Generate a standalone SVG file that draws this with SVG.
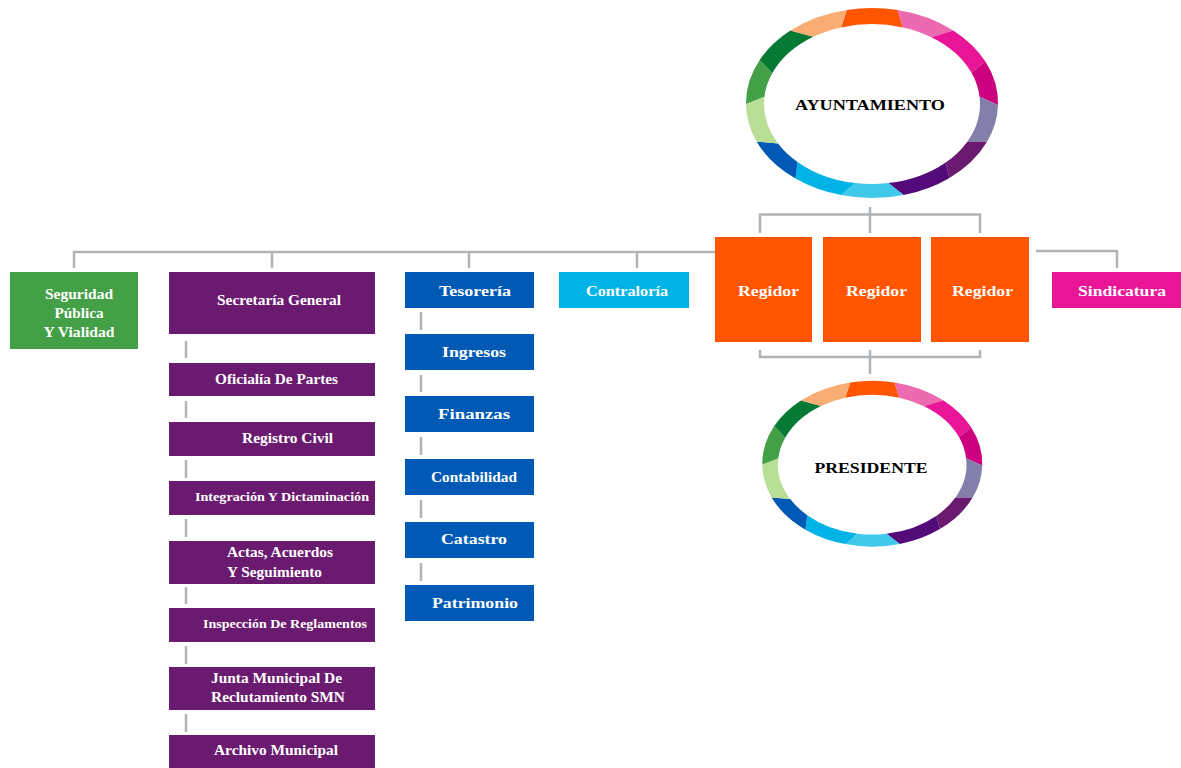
<svg xmlns="http://www.w3.org/2000/svg" width="1181" height="768" viewBox="0 0 1181 768">
<style>
text{font-family:"Liberation Serif","Times New Roman",serif;font-weight:bold;font-size:14px;fill:#fff;text-anchor:middle}
.sm{font-size:11.500px}
.k{fill:#000;font-size:15.500px}
.con path{fill:none;stroke:#b1b4b6;stroke-width:2.500}
.g{fill:#43a047}.p{fill:#6a1b70}.b{fill:#0059b5}.c{fill:#00b3e6}.o{fill:#ff5500}.m{fill:#e91597}
</style>
<defs>
<g id="ring">
<path fill="#ff5500" d="M846.7 10A126 95 0 0 1 897.7 10L903 27.400A108 80 0 0 0 841 27.400Z"/>
<path fill="#ec6ab0" d="M897.7 10A126 95 0 0 1 953.2 30.400L931.400 37.200A108 80 0 0 0 903 27.400Z"/>
<path fill="#e91597" d="M953.2 30.400A126 95 0 0 1 985.400 61.600L971.500 72.800A108 80 0 0 0 931.400 37.200Z"/>
<path fill="#cc007f" d="M985.400 61.600A126 95 0 0 1 998 105L979.500 96.700A108 80 0 0 0 971.500 72.800Z"/>
<path fill="#827fab" d="M998 105A126 95 0 0 1 987 141.800L967.100 141.900A108 80 0 0 0 979.500 96.700Z"/>
<path fill="#6a1b70" d="M987 141.800A126 95 0 0 1 949.500 177.900L945.700 162.500A108 80 0 0 0 967.100 141.900Z"/>
<path fill="#520b78" d="M949.500 177.900A126 95 0 0 1 903.600 195L888.300 183.100A108 80 0 0 0 945.700 162.500Z"/>
<path fill="#3fc8ea" d="M903.600 195A126 95 0 0 1 841.300 195.100L855 183.100A108 80 0 0 0 888.300 183.100Z"/>
<path fill="#00b3e6" d="M841.300 195.100A126 95 0 0 1 795.500 178.500L797.500 161.900A108 80 0 0 0 855 183.100Z"/>
<path fill="#0059b5" d="M795.500 178.500A126 95 0 0 1 756.700 141.700L778 143.400A108 80 0 0 0 797.500 161.900Z"/>
<path fill="#b9df96" d="M756.700 141.700A126 95 0 0 1 746 104L764.400 96.700A108 80 0 0 0 778 143.400Z"/>
<path fill="#43a047" d="M746 104A126 95 0 0 1 759.700 59.900L772.300 73.200A108 80 0 0 0 764.400 96.700Z"/>
<path fill="#067a35" d="M759.700 59.900A126 95 0 0 1 790.400 30.600L813.300 36.800A108 80 0 0 0 772.300 73.200Z"/>
<path fill="#f9ad74" d="M790.400 30.600A126 95 0 0 1 846.700 10L841 27.400A108 80 0 0 0 813.300 36.800Z"/>
</g>
</defs>
<rect width="1181" height="768" fill="#fff"/>
<g id="connectors" class="con">
<path d="M74 268V252H715"/>
<path d="M272 252V268M469 252V268M637 252V268"/>
<path d="M760 233V214.500H980V233M870 207V233"/>
<path d="M760 350V357H980V350M870 350V374"/>
<path d="M1036 251H1117V268"/>
<path d="M186 341V358M186 401V418M186 460V478M186 519V537M186 587V604M186 646V664M186 714V732"/>
<path d="M421 312V330M421 375V392M421 437V455M421 500V518M421 563V581"/>
</g>
<g id="ayuntamiento"><use href="#ring"/><text class="k" x="870" y="110" textLength="150" lengthAdjust="spacingAndGlyphs">AYUNTAMIENTO</text></g>
<g id="presidente"><use href="#ring" transform="translate(111 373.800) scale(.873)"/><text class="k" x="871" y="473" textLength="113" lengthAdjust="spacingAndGlyphs">PRESIDENTE</text></g>
<g id="seguridad"><rect class="g" x="10" y="272" width="128" height="77"/><text x="79" y="299" textLength="68" lengthAdjust="spacingAndGlyphs">Seguridad</text><text x="79" y="318" textLength="49" lengthAdjust="spacingAndGlyphs">Pública</text><text x="79" y="337" textLength="71" lengthAdjust="spacingAndGlyphs">Y Vialidad</text></g>
<g id="secretaria"><rect class="p" x="169" y="272" width="206" height="62"/><text x="279" y="305" textLength="124" lengthAdjust="spacingAndGlyphs">Secretaría General</text></g>
<g id="oficialia"><rect class="p" x="169" y="363" width="206" height="33"/><text x="276.500" y="384" textLength="123" lengthAdjust="spacingAndGlyphs">Oficialía De Partes</text></g>
<g id="registro"><rect class="p" x="169" y="422" width="206" height="34"/><text x="287.500" y="443" textLength="91" lengthAdjust="spacingAndGlyphs">Registro Civil</text></g>
<g id="integracion"><rect class="p" x="169" y="481" width="206" height="34"/><text class="sm" x="282" y="501" textLength="174" lengthAdjust="spacingAndGlyphs">Integración Y Dictaminación</text></g>
<g id="actas"><rect class="p" x="169" y="541" width="206" height="43"/><text x="280" y="557" textLength="106" lengthAdjust="spacingAndGlyphs">Actas, Acuerdos</text><text x="274.500" y="577" textLength="95" lengthAdjust="spacingAndGlyphs">Y Seguimiento</text></g>
<g id="inspeccion"><rect class="p" x="169" y="608" width="206" height="34"/><text class="sm" x="285" y="628" textLength="164" lengthAdjust="spacingAndGlyphs">Inspección De Reglamentos</text></g>
<g id="junta"><rect class="p" x="169" y="667" width="206" height="43"/><text x="276.500" y="683" textLength="131" lengthAdjust="spacingAndGlyphs">Junta Municipal De</text><text x="278" y="702" textLength="134" lengthAdjust="spacingAndGlyphs">Reclutamiento SMN</text></g>
<g id="archivo"><rect class="p" x="169" y="735" width="206" height="33"/><text x="276" y="755" textLength="124" lengthAdjust="spacingAndGlyphs">Archivo Municipal</text></g>
<g id="tesoreria"><rect class="b" x="405" y="272" width="129" height="36"/><text x="475" y="296" textLength="72" lengthAdjust="spacingAndGlyphs">Tesorería</text></g>
<g id="ingresos"><rect class="b" x="405" y="334" width="129" height="36"/><text x="474" y="357" textLength="64" lengthAdjust="spacingAndGlyphs">Ingresos</text></g>
<g id="finanzas"><rect class="b" x="405" y="396" width="129" height="36"/><text x="474" y="419" textLength="72" lengthAdjust="spacingAndGlyphs">Finanzas</text></g>
<g id="contabilidad"><rect class="b" x="405" y="459" width="129" height="36"/><text x="474" y="482" textLength="86" lengthAdjust="spacingAndGlyphs">Contabilidad</text></g>
<g id="catastro"><rect class="b" x="405" y="522" width="129" height="36"/><text x="474" y="544" textLength="66" lengthAdjust="spacingAndGlyphs">Catastro</text></g>
<g id="patrimonio"><rect class="b" x="405" y="585" width="129" height="36"/><text x="475" y="608" textLength="86" lengthAdjust="spacingAndGlyphs">Patrimonio</text></g>
<g id="contraloria"><rect class="c" x="559" y="272" width="130" height="36"/><text x="627" y="296" textLength="82" lengthAdjust="spacingAndGlyphs">Contraloría</text></g>
<g id="regidor1"><rect class="o" x="715" y="237" width="97" height="105"/><text x="768.500" y="296" textLength="61" lengthAdjust="spacingAndGlyphs">Regidor</text></g>
<g id="regidor2"><rect class="o" x="823" y="237" width="98" height="105"/><text x="876.500" y="296" textLength="61" lengthAdjust="spacingAndGlyphs">Regidor</text></g>
<g id="regidor3"><rect class="o" x="931" y="237" width="98" height="105"/><text x="982.500" y="296" textLength="61" lengthAdjust="spacingAndGlyphs">Regidor</text></g>
<g id="sindicatura"><rect class="m" x="1052" y="272" width="129" height="36"/><text x="1122" y="296" textLength="88" lengthAdjust="spacingAndGlyphs">Sindicatura</text></g>
</svg>
